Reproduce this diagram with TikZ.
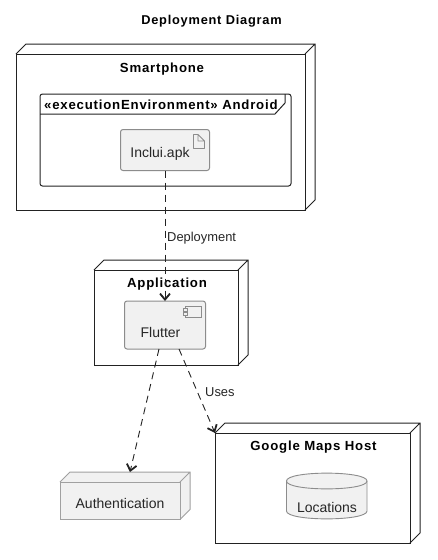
\documentclass[tikz,border=0pt]{standalone}
\usepackage{fontspec}
\setmainfont{Liberation Sans}
\newfontfamily\headfont[LetterSpace=6]{Liberation Sans}
\usetikzlibrary{arrows.meta,calc}
\definecolor{nodefill}{HTML}{F1F1F1}
\definecolor{softline}{HTML}{8C8C8C}
\definecolor{authline}{HTML}{A0A0A0}
\definecolor{inkline}{HTML}{222222}
\newcommand{\boxthree}[3]{% name, colour options, depth
  \draw[#2] (#1.north west) -- ++(#3,-#3) -- ($(#1.north east)+(#3,-#3)$) -- ($(#1.south east)+(#3,-#3)$) -- (#1.south east)
    (#1.north east) -- ++(#3,-#3);
}
\tikzset{
  x=1pt,y=-1pt,
  deploynode/.style={draw=inkline,line width=1pt,fill=white,rectangle,inner sep=0pt,outer sep=0pt},
  softnode/.style={draw=softline,line width=1pt,fill=nodefill,rectangle,inner sep=0pt,outer sep=0pt},
  softround/.style={softnode,rounded corners=2.5pt},
  dep/.style={draw=inkline,line width=0.9pt,dash pattern=on 7pt off 5pt,-{Straight Barb[length=6pt,width=10pt,line width=1.8pt]}},
  head/.style={font=\fontsize{13.2}{16}\headfont\bfseries,text=black,inner sep=0pt},
  label/.style={font=\fontsize{14}{16}\selectfont,text=black!85,inner sep=0pt},
  small/.style={font=\fontsize{12.9}{15}\selectfont,text=black!85,inner sep=0pt},
}
\begin{document}
\begin{tikzpicture}
\useasboundingbox (0,0) rectangle (437,560);
\fill[white] (0,0) rectangle (437,560);
\node[head,font=\fontsize{12.8}{15}\headfont\bfseries,anchor=center] (title) at (211.5,21) {Deployment Diagram};

% Smartphone
\node[deploynode,minimum width=289pt,minimum height=156pt,anchor=north west] (phone) at (16,54) {};
\boxthree{phone}{draw=inkline,line width=1pt}{10}
\node[head] (phonelabel) at (162,69) {Smartphone};

% Android frame
\node[draw=inkline,line width=1pt,fill=white,rectangle,rounded corners=2.5pt,inner sep=0pt,outer sep=0pt,minimum width=251pt,minimum height=92pt,anchor=north west] (android) at (40,94) {};
\coordinate (tabl) at ($(android.north west)+(0,20)$);
\coordinate (tabm) at ($(android.north east)+(-16,20)$);
\coordinate (tabr) at ($(android.north east)+(-6,9)$);
\coordinate (tabt) at ($(android.north east)+(-6,0)$);
\draw[draw=inkline,line width=1pt] (tabl) -- (tabm) -- (tabr) -- (tabt);
\node[head,anchor=west] (androidlabel) at (44,105) {«executionEnvironment» Android};

% Artifact
\node[softround,minimum width=89pt,minimum height=41pt,anchor=north west] (apk) at (120.5,129.5) {};
\draw[softline,line width=0.9pt,line join=round] (193.5,134.5) -- (193.5,148.5) -- (204.5,148.5) -- (204.5,141) -- (198,134.5) -- cycle (198,134.5) -- (198,141) -- (204.5,141);
\node[label,anchor=center] (apklabel) at (160,153.5) {Inclui.apk};

% Application
\node[deploynode,minimum width=144pt,minimum height=95pt,anchor=north west] (app) at (94,270) {};
\boxthree{app}{draw=inkline,line width=1pt}{10}
\node[head] (applabel) at (167,284.5) {Application};

% Flutter
\node[softround,minimum width=81pt,minimum height=48pt,anchor=north west] (flutter) at (124.5,301) {};
\draw[softline,line width=0.9pt,fill=nodefill] (185,306) rectangle (201,317);
\draw[softline,line width=0.9pt,fill=nodefill] (183,308) rectangle (187,311);
\draw[softline,line width=0.9pt,fill=nodefill] (183,312.5) rectangle (187,315.5);
\node[label,anchor=center] (flutterlabel) at (160.5,332) {Flutter};

% Authentication
\fill[nodefill] (60,482) -- (70,472) -- (190,472) -- (190,509.5) -- (180,519.5) -- (60,519.5) -- cycle;
\node[softnode,draw=authline,minimum width=120pt,minimum height=37.5pt,anchor=north west] (auth) at (60,482) {};
\boxthree{auth}{draw=authline,line width=1pt}{10}
\node[label,anchor=center] (authlabel) at (120,503) {Authentication};

% Google Maps Host
\node[deploynode,minimum width=195pt,minimum height=110pt,anchor=north west] (maps) at (215,433) {};
\boxthree{maps}{draw=inkline,line width=1pt}{10}
\node[head] (mapslabel) at (313.5,447.5) {Google Maps Host};

% Locations
\path[fill=nodefill,draw=softline,line width=0.9pt] (286.5,481) .. controls (286.5,470.5) and (367,470.5) .. (367,481) -- (367,511) .. controls (367,521.5) and (286.5,521.5) .. (286.5,511) -- cycle;
\draw[softline,line width=0.9pt] (286.5,481) .. controls (286.5,491.5) and (367,491.5) .. (367,481);
\node[label,anchor=center] (loclabel) at (327,507) {Locations};

% Connectors
\draw[dep] (apk.south) -- (flutter.north);
\node[small,anchor=west] (deplabel) at (167,238) {Deployment};
\coordinate (authtop) at ($(auth.north)+(10,-10)$);
\draw[dep] ($(flutter.south)+(-6,0)$) -- (authtop);
\draw[dep] ($(flutter.south)+(14,0)$) -- (maps.north west);
\node[small,anchor=west] (useslabel) at (205,392.5) {Uses};
\end{tikzpicture}
\end{document}
